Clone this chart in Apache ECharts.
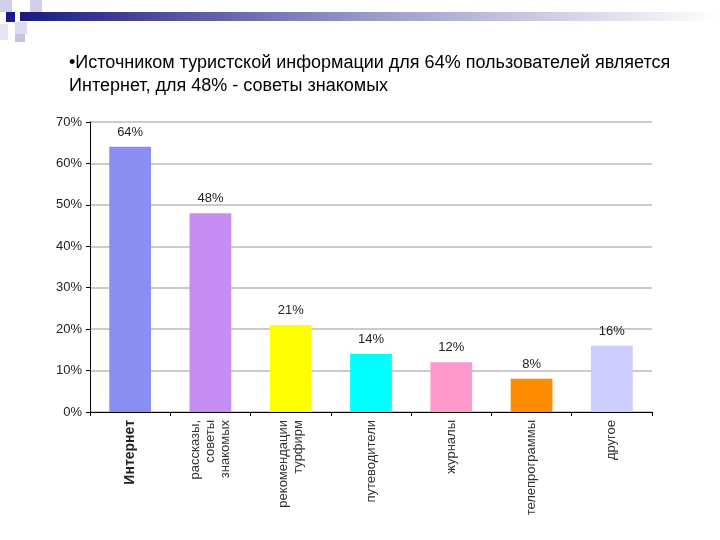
<!DOCTYPE html>
<html>
<head>
<meta charset="utf-8">
<script src="https://cdn.jsdelivr.net/npm/echarts@6/dist/echarts.min.js"></script>
<style>
html, body { margin: 0; padding: 0; background: #fff; }
#chart { width: 720px; height: 540px; }
</style>
</head>
<body>
<div id="chart"></div>
<script>
// data
const categories = ['Интернет', 'рассказы,\nсоветы\nзнакомых', 'рекомендации\nтурфирм', 'путеводители', 'журналы', 'телепрограммы', 'другое'];
const values = [64, 48, 21, 14, 12, 8, 16];
const barColors = ['#8a8ef0', '#c58ef2', '#ffff00', '#00ffff', '#ff99cc', '#ff8c00', '#ccccff'];
const yTicks = [0, 10, 20, 30, 40, 50, 60, 70];

const chart = echarts.init(document.getElementById('chart'));

let option = {
    animation: false,
    backgroundColor: '#fff',
    title: {
        text: '•Источником туристской информации для 64% пользователей является\nИнтернет, для 48% - советы знакомых',
        left: 64,
        top: 47,
        textStyle: {
            fontFamily: 'Liberation Sans',
            fontSize: 18,
            fontWeight: 'normal',
            color: '#000',
            lineHeight: 23
        }
    },
    graphic: [
        // slide decoration top-left
        {type: 'rect', shape: {x: 20, y: 12, width: 700, height: 9},
            style: {fill: new echarts.graphic.LinearGradient(0, 0, 1, 0, [
                {offset: 0, color: '#1a1a80'}, {offset: 0.5, color: '#9a9ac8'}, {offset: 1, color: '#ffffff'}])}},
        {type: 'rect', shape: {x: 0, y: 0, width: 12, height: 12}, style: {fill: '#d0d0e8'}},
        {type: 'rect', shape: {x: 30, y: 0, width: 12, height: 12}, style: {fill: '#d0d0e8'}},
        {type: 'rect', shape: {x: 6, y: 12, width: 9, height: 10}, style: {fill: '#1a1a90'}},
        {type: 'rect', shape: {x: 15, y: 22, width: 12, height: 12}, style: {fill: '#dcdcee'}},
        {type: 'rect', shape: {x: 0, y: 24, width: 8, height: 16}, style: {fill: '#e6e6f2'}},
        {type: 'rect', shape: {x: 15, y: 34, width: 10, height: 8}, style: {fill: '#c4c4dc'}}
    ],
    grid: {left: 90, right: 68, top: 122, bottom: 128},
    xAxis: {
        type: 'category',
        data: categories,
        axisLine: {lineStyle: {color: '#000'}},
        axisTick: {show: true, length: 4, lineStyle: {color: '#000'}},
        axisLabel: {
            rotate: 90,
            interval: 0,
            fontFamily: 'Liberation Sans',
            fontSize: 13,
            color: '#333',
            lineHeight: 15,
            align: 'right',
            verticalAlign: 'middle',
            formatter: (v, i) => i === 0 ? '{b|' + v + '}' : v,
            rich: {b: {fontWeight: 'bold', fontSize: 14, color: '#222', fontFamily: 'Liberation Sans'}}
        }
    },
    yAxis: {
        type: 'value',
        min: 0,
        max: 70,
        interval: 10,
        axisLine: {show: true, lineStyle: {color: '#000'}},
        axisTick: {show: true, length: 4, lineStyle: {color: '#000'}},
        splitLine: {lineStyle: {color: '#b8b8c8', width: 1.5}},
        axisLabel: {
            formatter: v => yTicks.includes(v) ? v + '%' : '',
            fontFamily: 'Liberation Sans',
            fontSize: 13,
            color: '#222'
        }
    },
    series: [{
        type: 'bar',
        data: values.map((v, i) => ({value: v, itemStyle: {color: barColors[i]}})),
        barWidth: '52%',
        label: {
            show: true,
            position: 'top',
            distance: 8,
            formatter: '{c}%',
            fontFamily: 'Liberation Sans',
            fontSize: 13,
            color: '#222'
        }
    }]
};

chart.setOption(option);
</script>
</body>
</html>
